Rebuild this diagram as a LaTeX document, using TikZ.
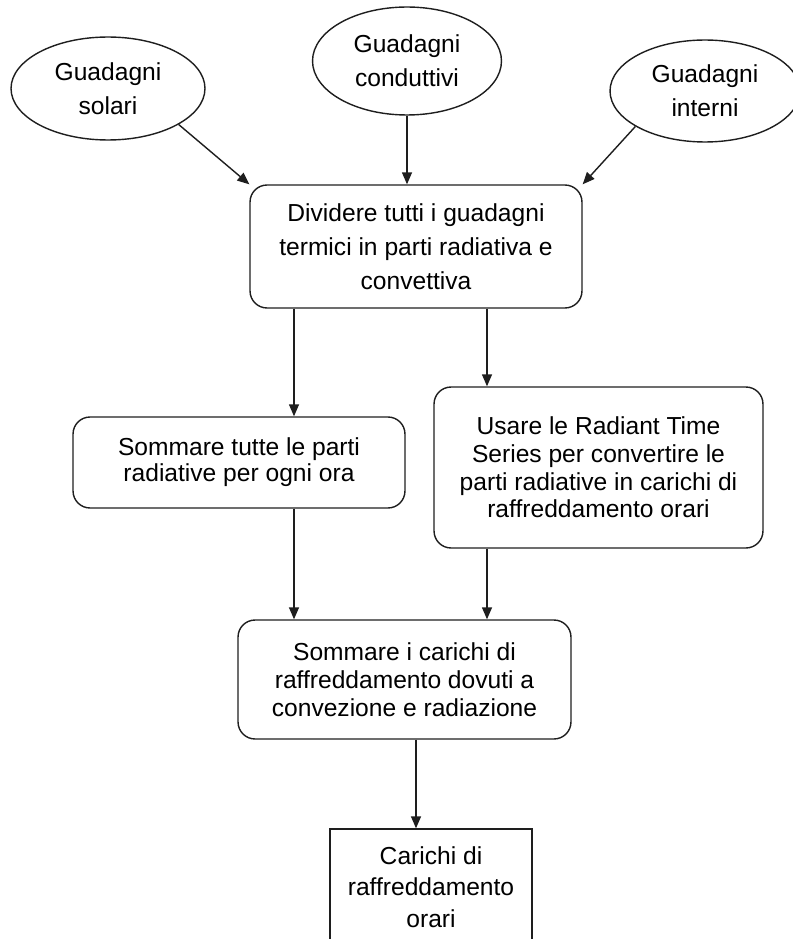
\documentclass[tikz,border=0pt]{standalone}
\usepackage{fontspec}
\setmainfont{Liberation Sans}
\usetikzlibrary{arrows.meta,calc,shapes.geometric}
\definecolor{LineClr}{RGB}{30,30,30}

\tikzset{
  GainNode/.style={draw=LineClr,ellipse,line width=0.8pt,inner sep=0pt,align=center,
    minimum width=3.82cm,minimum height=2.08cm,font=\fontsize{14pt}{19.4pt}\selectfont},
  StepNode/.style={draw=LineClr,rounded corners=0.34cm,line width=0.8pt,inner sep=0pt,align=center},
  FlowArrow/.style={draw=LineClr,line width=0.8pt,-{Triangle[length=0.24cm,width=0.2cm]}}
}

\begin{document}
\begin{tikzpicture}[x=0.02cm,y=-0.02cm]
\useasboundingbox (0,0) rectangle (792,939);

\node[GainNode,minimum width=3.88cm,minimum height=2.06cm] (Sol) at (108,88.5) {Guadagni\\solari};
\node[GainNode,minimum width=3.78cm,minimum height=2.16cm] (Cond) at (407,61) {Guadagni\\conduttivi};
\node[GainNode,minimum width=3.8cm,minimum height=2.04cm] (Int) at (705,91) {Guadagni\\interni};

\node[StepNode,minimum width=6.64cm,minimum height=2.46cm,font=\fontsize{14pt}{19.4pt}\selectfont]
  (Div) at (416,246.5) {Dividere tutti i guadagni\\termici in parti radiativa e\\convettiva};
\node[StepNode,minimum width=6.64cm,minimum height=1.82cm,font=\fontsize{14pt}{14.8pt}\selectfont]
  (SumRad) at (239,462.5) {Sommare tutte le parti\\radiative per ogni ora};
\node[StepNode,minimum width=6.58cm,minimum height=3.22cm,font=\fontsize{14pt}{15.8pt}\selectfont]
  (RTS) at (598.5,467.5) {Usare le Radiant Time\\Series per convertire le\\parti radiative in carichi di\\raffreddamento orari};
\node[StepNode,minimum width=6.66cm,minimum height=2.38cm,font=\fontsize{14pt}{15.9pt}\selectfont]
  (SumAll) at (404.5,679.5) {Sommare i carichi di\\raffreddamento dovuti a\\convezione e radiazione};
\node[StepNode,rounded corners=0pt,minimum width=4.04cm,minimum height=2.32cm,font=\fontsize{14pt}{17.9pt}\selectfont]
  (Load) at (431,887) {Carichi di\\raffreddamento\\orari};

\coordinate (xL) at (294,0);
\coordinate (xR) at (487,0);
\coordinate (xM) at (416,0);

\draw[FlowArrow] (Sol.-27) -- (Div.north west);
\draw[FlowArrow] (Cond.south) -- (Cond.south |- Div.north);
\draw[FlowArrow] (Int.207) -- (Div.north east);

\draw[FlowArrow] (Div.south -| xL) -- (SumRad.north -| xL);
\draw[FlowArrow] (Div.south -| xR) -- (RTS.north -| xR);
\draw[FlowArrow] (SumRad.south -| xL) -- (SumAll.north -| xL);
\draw[FlowArrow] (RTS.south -| xR) -- (SumAll.north -| xR);
\draw[FlowArrow] (SumAll.south -| xM) -- (Load.north -| xM);

\end{tikzpicture}
\end{document}
